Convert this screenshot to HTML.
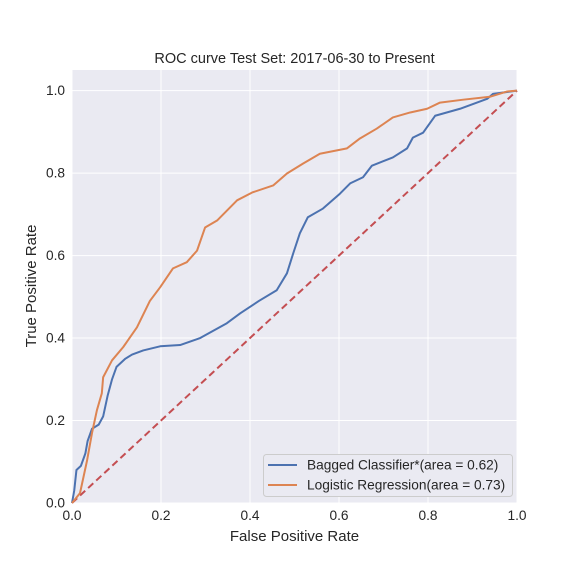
<!DOCTYPE html>
<html><head><meta charset="utf-8"><style>
body{margin:0;background:#fff;}
svg{font-family:"Liberation Sans",Arial,sans-serif;}
</style></head><body>
<svg id="chart" width="576" height="576" viewBox="0 0 576 576" xmlns="http://www.w3.org/2000/svg">
<rect x="0" y="0" width="576" height="576" fill="#fff"/>
<rect x="72" y="70" width="445" height="433" fill="#eaeaf2"/>
<g id="grid"></g>
<g id="marks"></g>
<g id="ticks"></g>
<text x="294.5" y="63" font-size="14.5" text-anchor="middle" fill="#262626">ROC curve Test Set: 2017-06-30 to Present</text>
<text x="294.5" y="541" font-size="15" text-anchor="middle" fill="#262626">False Positive Rate</text>
<text x="36" y="286" font-size="15" text-anchor="middle" fill="#262626" transform="rotate(-90 36 286)">True Positive Rate</text>
<g>
<rect x="263.5" y="454.5" width="249" height="42" rx="3" fill="#eaeaf2" stroke="#cccccc" stroke-width="1"/>
<line x1="268" y1="465" x2="297" y2="465" stroke="#4c72b0" stroke-width="2"/>
<text x="307" y="469.5" font-size="13.7" fill="#262626">Bagged Classifier*(area = 0.62)</text>
<line x1="268" y1="485" x2="297" y2="485" stroke="#dd8452" stroke-width="2"/>
<text x="307" y="489.5" font-size="13.7" fill="#262626">Logistic Regression(area = 0.73)</text>
</g>
</svg>
<script>
const xTicks=[0,0.2,0.4,0.6,0.8,1.0];
const yTicks=[0,0.2,0.4,0.6,0.8,1.0];
const tickLabels=["0.0","0.2","0.4","0.6","0.8","1.0"];
const baggedFpr=[0,0.005,0.01,0.02,0.03,0.035,0.045,0.06,0.07,0.08,0.09,0.1,0.12,0.135,0.16,0.198,0.243,0.288,0.348,0.378,0.42,0.46,0.483,0.497,0.512,0.53,0.564,0.602,0.625,0.654,0.674,0.721,0.753,0.766,0.789,0.816,0.872,0.933,0.946,1];
const baggedTpr=[0,0.03,0.08,0.09,0.12,0.15,0.18,0.19,0.21,0.26,0.30,0.33,0.35,0.36,0.37,0.38,0.383,0.40,0.436,0.46,0.49,0.516,0.557,0.605,0.654,0.693,0.714,0.75,0.775,0.79,0.818,0.838,0.86,0.886,0.898,0.939,0.956,0.98,0.992,1];
const logFpr=[0,0.018,0.034,0.045,0.056,0.067,0.07,0.09,0.115,0.146,0.175,0.198,0.227,0.258,0.281,0.299,0.326,0.371,0.405,0.452,0.483,0.519,0.557,0.618,0.647,0.685,0.721,0.76,0.798,0.827,0.879,0.939,0.978,1];
const logTpr=[0,0.024,0.104,0.17,0.225,0.266,0.305,0.346,0.378,0.426,0.49,0.523,0.569,0.584,0.612,0.668,0.685,0.734,0.753,0.77,0.799,0.823,0.847,0.86,0.884,0.908,0.935,0.947,0.956,0.971,0.978,0.985,0.998,1];
const chanceX=[0,1];
const chanceY=[0,1];
const NS="http://www.w3.org/2000/svg";
const X0=72,X1=517,Y0=503,YTOP=70,YMAX=1.05;
function sx(v){return X0+v*(X1-X0);}
function sy(v){return Y0-v/YMAX*(Y0-YTOP);}
const grid=document.getElementById('grid'),marks=document.getElementById('marks'),ticks=document.getElementById('ticks');
xTicks.forEach((t,i)=>{
 const l=document.createElementNS(NS,'line');
 
 
 l.setAttribute('x1',sx(t));l.setAttribute('x2',sx(t));l.setAttribute('y1',YTOP);l.setAttribute('y2',Y0);
 l.setAttribute('stroke','#fff');l.setAttribute('stroke-width','1');grid.appendChild(l);
 const tx=document.createElementNS(NS,'text');
 
 
 tx.setAttribute('x',sx(t));tx.setAttribute('y',Y0+17);tx.setAttribute('font-size','13.7');
 tx.setAttribute('text-anchor','middle');tx.setAttribute('fill','#262626');tx.textContent=tickLabels[i];ticks.appendChild(tx);
});
yTicks.forEach((t,i)=>{
 const l=document.createElementNS(NS,'line');
 
 
 l.setAttribute('x1',X0);l.setAttribute('x2',X1);l.setAttribute('y1',sy(t));l.setAttribute('y2',sy(t));
 l.setAttribute('stroke','#fff');l.setAttribute('stroke-width','1');grid.appendChild(l);
 const tx=document.createElementNS(NS,'text');
 
 
 tx.setAttribute('x',X0-7);tx.setAttribute('y',sy(t)+4.5);tx.setAttribute('font-size','13.7');
 tx.setAttribute('text-anchor','end');tx.setAttribute('fill','#262626');tx.textContent=tickLabels[i];ticks.appendChild(tx);
});
function line(xs,ys,color,dash){
 const p=document.createElementNS(NS,'polyline');
 p.setAttribute('points',xs.map((x,i)=>sx(x)+','+sy(ys[i])).join(' '));
 p.setAttribute('fill','none');p.setAttribute('stroke',color);p.setAttribute('stroke-width','2');
 p.setAttribute('stroke-linejoin','round');
 if(dash)p.setAttribute('stroke-dasharray',dash);
 marks.appendChild(p);return p;
}
const c=line(chanceX,chanceY,'#c44e52','7,4');


const b=line(baggedFpr,baggedTpr,'#4c72b0');


const o=line(logFpr,logTpr,'#dd8452');


</script>
</body></html>
